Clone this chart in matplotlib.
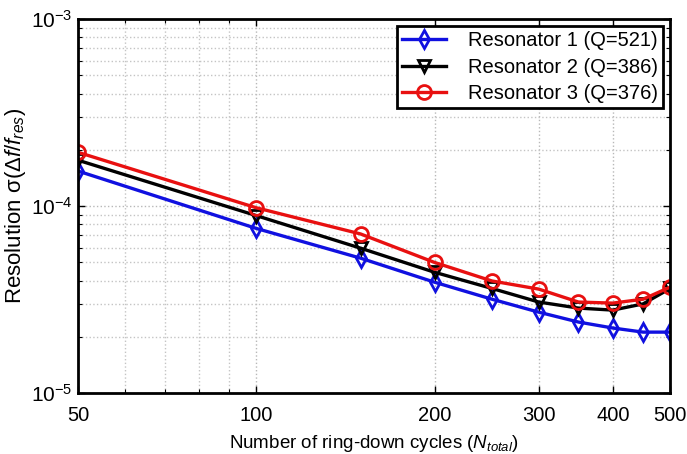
import matplotlib
matplotlib.use("Agg")
import matplotlib.pyplot as plt
from matplotlib.ticker import FixedLocator, FixedFormatter, LogLocator, NullFormatter

plt.rcParams["font.family"] = ["Liberation Sans", "DejaVu Sans"]
plt.rcParams["mathtext.fontset"] = "custom"
plt.rcParams["mathtext.rm"] = "Liberation Sans"
plt.rcParams["mathtext.it"] = "Liberation Sans:italic"
plt.rcParams["mathtext.bf"] = "Liberation Sans:bold"

cycles = [50, 100, 150, 200, 250, 300, 350, 400, 450, 500]
res1 = [1.54e-4, 7.6e-5, 5.27e-5, 3.92e-5, 3.18e-5, 2.71e-5, 2.40e-5, 2.23e-5, 2.12e-5, 2.12e-5]
res2 = [1.76e-4, 8.9e-5, 5.96e-5, 4.43e-5, 3.63e-5, 3.07e-5, 2.85e-5, 2.78e-5, 3.00e-5, 3.63e-5]
res3 = [1.94e-4, 9.8e-5, 7.1e-5, 5.0e-5, 3.98e-5, 3.60e-5, 3.07e-5, 3.03e-5, 3.18e-5, 3.69e-5]

labels = ["Resonator 1 (Q=521)", "Resonator 2 (Q=386)", "Resonator 3 (Q=376)"]
x_ticks = [50, 100, 200, 300, 400, 500]

fig = plt.figure(figsize=(6.87, 4.54), dpi=100)
ax = fig.add_axes([0.1135, 0.134, 0.862, 0.824])

ax.plot(cycles, res1, color="#1010e0", lw=2.4, marker="d", ms=9, mfc="none", mew=2, label=labels[0])
ax.plot(cycles, res2, color="black", lw=2.4, marker="v", ms=9, mfc="none", mew=2, label=labels[1])
ax.plot(cycles, res3, color="#e81010", lw=2.4, marker="o", ms=10, mfc="none", mew=2, label=labels[2])

ax.set_xscale("log")
ax.set_yscale("log")
ax.set_xlim(50, 500)
ax.set_ylim(1e-5, 1e-3)

ax.xaxis.set_major_locator(FixedLocator(x_ticks))
ax.xaxis.set_major_formatter(FixedFormatter([str(t) for t in x_ticks]))
ax.xaxis.set_minor_locator(FixedLocator([60, 70, 80, 90]))
ax.xaxis.set_minor_formatter(NullFormatter())
ax.yaxis.set_major_locator(FixedLocator([1e-5, 1e-4, 1e-3]))
ax.yaxis.set_major_formatter(FixedFormatter([r"$10^{-5}$", r"$10^{-4}$", r"$10^{-3}$"]))
ax.yaxis.set_minor_locator(LogLocator(base=10, subs=range(2, 10)))
ax.yaxis.set_minor_formatter(NullFormatter())

ax.grid(True, which="major", color="#b8b8b8", linestyle=":", lw=1)
ax.grid(True, which="minor", color="#c4c4c4", linestyle=":", lw=1)
ax.tick_params(which="both", direction="in", top=True, right=True, labelsize=15)
ax.tick_params(axis="x", labelsize=14.5, pad=9)
ax.tick_params(which="major", length=5, width=1)
ax.tick_params(which="minor", length=3, width=0.8)
ax.tick_params(axis="y", pad=4)
for s in ax.spines.values():
    s.set_linewidth(2)

ax.set_xlabel(r"Number of ring-down cycles ($N_{total}$)", fontsize=13.5, labelpad=6)
ax.set_ylabel(r"Resolution $\mathrm{\sigma}(\Delta f/f_{res})$", fontsize=16)
ax.yaxis.set_label_coords(-0.084, 0.5)

leg = ax.legend(loc="upper right", fontsize=14.5, frameon=True, fancybox=False,
                edgecolor="black", framealpha=1, borderpad=0.25, labelspacing=0.38,
                handlelength=2.2, borderaxespad=0.35, handletextpad=1.1)
leg.get_frame().set_linewidth(2)

fig.savefig("out.png", dpi=100)
